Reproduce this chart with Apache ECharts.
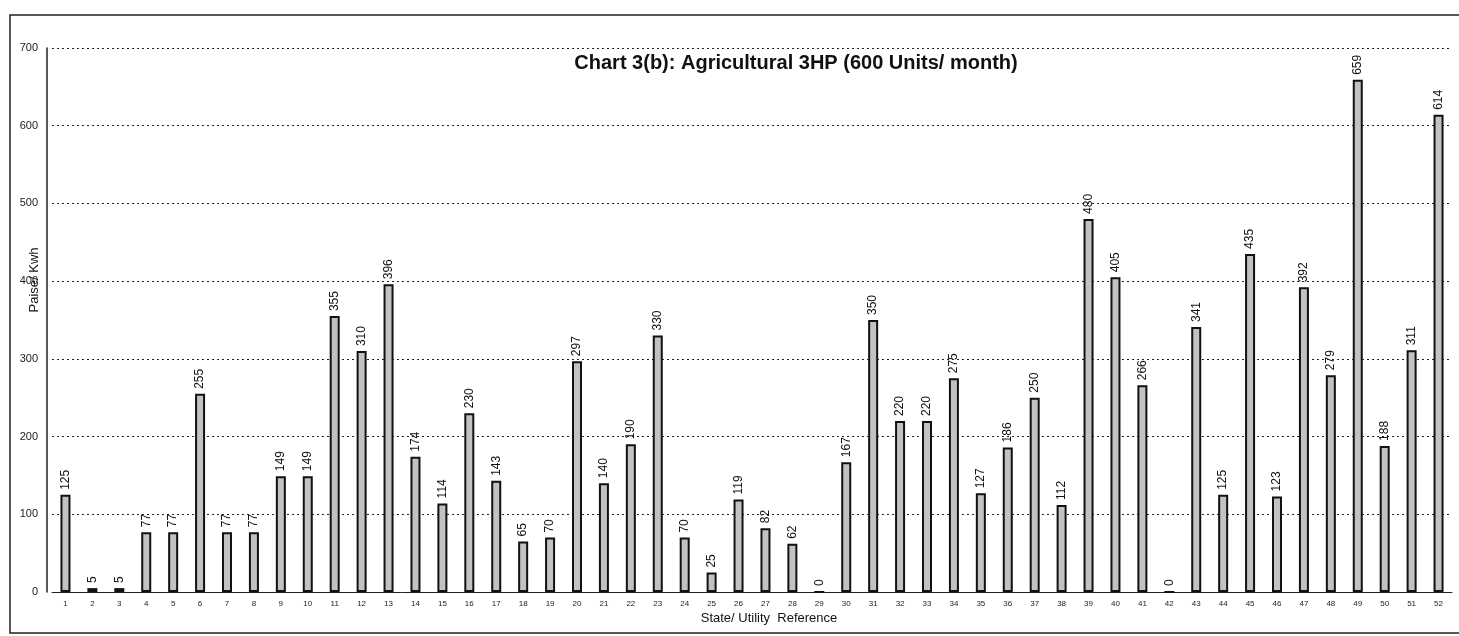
<!DOCTYPE html>
<html>
<head>
<meta charset="utf-8">
<script src="https://cdn.jsdelivr.net/npm/echarts@6/dist/echarts.min.js"></script>
<style>
  html, body { margin: 0; padding: 0; background: #fff; }
  #chart { width: 1459px; height: 636px; }
</style>
</head>
<body>
<div id="chart"></div>
<script>
// State/utility reference numbers
const categories = [];
for (let i = 1; i <= 52; i++) categories.push(String(i));

// Paise per kWh
const values = [
  125, 5, 5, 77, 77, 255, 77, 77, 149, 149,
  355, 310, 396, 174, 114, 230, 143, 65, 70, 297,
  140, 190, 330, 70, 25, 119, 82, 62, 0, 167,
  350, 220, 220, 275, 127, 186, 250, 112, 480, 405,
  266, 0, 341, 125, 435, 123, 392, 279, 659, 188,
  311, 614
];

const yTicks = [0, 100, 200, 300, 400, 500, 600, 700];

const FONT = 'Liberation Sans, Arial, sans-serif';

const chart = echarts.init(document.getElementById('chart'), null, { renderer: 'canvas' });

const option = {
  backgroundColor: '#fff',
  animation: false,
  title: {
    text: 'Chart 3(b): Agricultural 3HP (600 Units/ month)',
    left: 791,
    textAlign: 'center',
    top: 48,
    textStyle: {
      fontFamily: FONT,
      fontSize: 20,
      fontWeight: 'bold',
      color: '#111'
    }
  },
  graphic: [
    {
      type: 'rect',
      shape: { x: 10, y: 15, width: 1470, height: 618 },
      style: { fill: null, stroke: '#222', lineWidth: 1.5 },
      silent: true
    },
    {
      // y-axis title, placed where the original sits (over the 400 label)
      type: 'text',
      x: 34,
      y: 280,
      rotation: Math.PI / 2,
      style: {
        text: 'Paise/ Kwh',
        font: '13px ' + FONT,
        fill: '#111',
        align: 'center',
        verticalAlign: 'middle'
      },
      silent: true
    },
    {
      type: 'text',
      x: 769,
      y: 618,
      style: {
        text: 'State/ Utility  Reference',
        font: '13px ' + FONT,
        fill: '#111',
        align: 'center',
        verticalAlign: 'middle'
      },
      silent: true
    }
  ],
  grid: {
    left: 52,
    right: 7,
    top: 48,
    bottom: 44,
    containLabel: false
  },
  xAxis: {
    type: 'category',
    data: categories,
    axisLine: { lineStyle: { color: '#222', width: 1 } },
    axisTick: { show: false },
    axisLabel: {
      interval: 0,
      fontFamily: FONT,
      fontSize: 8,
      color: '#222',
      margin: 8
    }
  },
  yAxis: {
    type: 'value',
    min: yTicks[0],
    max: yTicks[yTicks.length - 1],
    interval: 100,
    offset: 5,
    axisLine: { show: true, lineStyle: { color: '#222', width: 1.5 } },
    axisTick: { show: false },
    axisLabel: {
      fontFamily: FONT,
      fontSize: 11,
      color: '#222',
      margin: 9
    },
    splitLine: {
      show: true,
      lineStyle: { color: '#222', type: [2, 3], width: 1 }
    }
  },
  series: [{
    type: 'bar',
    data: values,
    barWidth: 10,
    itemStyle: {
      color: '#c2c2c2',
      borderColor: '#111',
      borderWidth: 2
    },
    label: {
      show: true,
      position: 'top',
      rotate: 90,
      align: 'left',
      verticalAlign: 'middle',
      distance: 5,
      fontFamily: FONT,
      fontSize: 12,
      color: '#111'
    }
  }]
};

chart.setOption(option);
</script>
</body>
</html>
